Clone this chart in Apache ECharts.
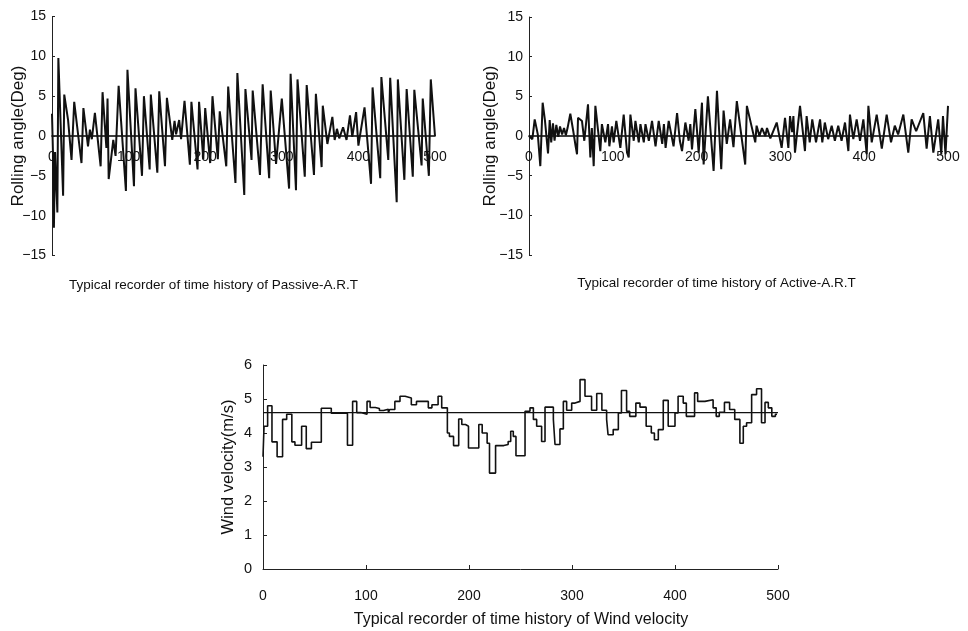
<!DOCTYPE html>
<html>
<head>
<meta charset="utf-8">
<script src="https://cdn.jsdelivr.net/npm/echarts@6/dist/echarts.min.js"></script>
<style>
html,body{margin:0;padding:0;background:#fff;}
#c{width:968px;height:631px;}
</style>
</head>
<body>
<div id="c"></div>
<script>
// ---- Passive-A.R.T rolling angle (time, deg) ----
const passiveTime = [0,1.5,2.5,4,7,8.3,14.5,16,21,25.5,29,38.5,41,47,49.5,52,56,63.5,66,71,72.5,74,80,83,87,96.5,98.5,107,109,117.5,120,127.5,129,137.5,140,147.5,150,157,160,162,166,168.5,173,180,182,190,192,197.5,200,206.5,209.5,216.5,219,227.5,230,239.5,242,251,252.5,260.5,262,271.5,275,283.5,285.5,292.5,300,309.5,311.5,318.5,320.5,330,332.5,342,344.5,352,353.5,359.5,366,369,372,375,380,384.5,389,392,397,400,408,416.5,418.5,428.5,430,439,441.5,450,451.5,460,463,471,473,482.5,484,492,494.5,500];
const passiveAngle = [2.8,-3,-11.5,-2,-9.6,9.8,-7.5,5.2,2,-3,4.3,-3.4,3.5,-1.3,0.8,-0.4,2.9,-3.8,5.5,-1.5,4.7,-5.4,-0.5,-2.5,6.3,-6.9,8.3,-6.3,6.0,-5,5,-4.2,5.2,-4.6,5.6,-3.8,4.8,-0.5,1.9,0.2,2,-0.4,4.4,-3.6,4.3,-4.2,4.3,-2.9,3.5,-3.4,5,-2.9,3.1,-3.8,6.2,-5.9,7.9,-7.4,5.9,-3,5.7,-4.9,6.5,-5.3,5.7,-3.5,4.7,-6.6,7.8,-6.8,7.1,-5.1,6.4,-4.9,5.3,-3.9,3.8,-1,2.4,-0.5,0.9,-0.3,1.1,-0.5,2.6,-0.1,3,-1.2,3.6,-6,6.1,-5.3,7.4,-3,7.3,-8.3,7.1,-5.5,5.9,-5.1,5.8,-3.7,4.7,-5,7.1,0];

// ---- Active-A.R.T rolling angle (time, deg) ----
const activeTime = [0,4,6.8,10.5,13.5,16.3,19,22.7,24.7,26.5,28.6,30.5,32.6,35,37,39.5,41.8,44,46,49.3,53,55.5,57.3,58.5,63.2,66,70.4,73.2,75,77.2,79.2,85.1,87,91.1,94.3,95.9,99,101,104.2,109,113,117,119,121,125,127,131,133,137,139,143,146.8,151,154.8,159,161,163,166.7,172.5,176.7,180,182.6,186.6,190.5,192.5,194.5,198.5,202.5,206.4,208.4,213.5,220.3,224.3,229.4,232.2,236,240,244,248,258,260,265,270,271.6,275,278,282,284,288,295.6,301.5,305.5,309.5,311.5,314,315.5,317.4,323.4,329.3,331.3,335,338,342.5,347.3,350,353,357,361.2,365,369,373,377.1,381.1,383,387,391,395,399,403,405,409,414.9,421,426.8,432,436.5,440.5,446.7,452.6,456.6,462,470.5,474.5,478.4,482.5,488.3,492,494,497,500];
const activeAngle = [0,-0.4,2.1,0.2,-3.8,4.2,2.0,-2.2,2.0,-0.8,1.6,-0.6,1.4,-0.1,1.2,0.2,1.0,0.1,1.0,2.8,0.5,-1.2,-2.3,2.3,1.9,-0.6,4.0,-2.7,1,-3.8,3.8,-1.9,1.5,-0.8,1.5,-1.3,1.2,-0.8,1.9,-1.5,2.7,-2.1,-2.7,2.7,-0.6,1.9,-0.8,1.5,-0.8,1.5,-0.6,1.9,-1.3,1.9,-1.0,1.5,-1.5,1.9,-1.3,2.9,-0.6,-1.9,1.7,-0.6,1.5,-1.7,3.4,-2.1,4.2,-3.6,5.0,-4.4,5.7,-4.2,3.2,-1.0,2.1,-1.4,4.4,-3.6,3.8,1.5,-0.8,1.3,0,1.0,0,1.0,-0.3,1.7,-1.5,2.3,-1.5,2.5,0.5,2.5,-2.1,3.8,-1.9,2.5,-0.8,2.1,-0.8,2.1,-0.8,1.7,-0.4,1.3,-0.6,1.3,-0.6,1.7,-1.9,2.7,-0.4,2.1,-0.6,2.1,-2.3,3.8,-0.8,2.7,-1.6,2.7,-0.8,1.3,0.2,2.7,-2.1,2.1,0.6,2.9,-1.6,2.5,-2.1,2.1,-2.3,2.5,-2.3,3.8];

// ---- Wind velocity step record (time, m/s) ----
const windTime = [0,1,4.5,8.7,13.7,19,23,28,31,37.5,42,47,56.6,66.3,82,87,91,95,101,104,109,113,117,121.7,123,128,133,138,144,149,160.5,164,170,173.5,179,181,185,190,193,196.6,199.5,209.5,212.8,217.6,219.9,225.8,233.8,238,240.5,243,245.6,254.4,259.2,262.5,265.7,270.5,273.8,281.9,283.5,288.3,291.6,294.8,299.7,303,307.8,312.6,319,324,329,333.6,335,340,345,348,353,356,362,366,372,377,380,383.8,388.6,393.4,400,403,408,411,419,422,429,437,440,443,448,453,458,463,466.3,469.5,474.4,479.2,484,487.4,490.6,494,497.5,499];
const windSpeed = [3.3,4.2,4.8,3.74,3.3,4.4,4.55,3.74,3.64,4.2,3.54,3.73,4.73,4.58,3.64,4.93,4.6,4.55,4.93,4.75,4.72,4.66,4.7,4.6,4.69,4.93,5.08,5.03,4.83,4.93,4.74,4.83,5.08,4.74,4.0,3.9,3.63,4.41,4.25,4.2,3.56,4.25,4.0,3.7,2.82,3.63,3.66,3.75,4.05,3.9,3.33,4.64,4.74,4.4,4.2,3.75,4.76,4.4,3.66,4.12,4.93,4.67,4.88,4.93,5.57,5.08,4.67,5.16,4.67,4.4,3.95,4.1,4.59,5.25,4.64,4.49,4.88,4.76,4.2,4.0,3.8,4.1,4.96,4.2,4.59,5.08,4.88,4.49,5.18,4.93,4.98,4.74,4.49,4.61,4.9,4.69,4.4,3.7,4.2,4.3,5.13,5.3,4.3,4.9,4.74,4.49,4.55,4.55];
const windMean = 4.6;

// ---- Axes / labels ----
const timeTicks = {min: 0, max: 500, interval: 100};
const angleTicks = {min: -15, max: 15, interval: 5};
const windTicks = {min: 0, max: 6, interval: 1};
const titles = [
  'Typical recorder of time history of Passive-A.R.T',
  'Typical recorder of time history of Active-A.R.T',
  'Typical recorder of time history of Wind velocity'
];
const angleName = 'Rolling angle(Deg)';
const windName = 'Wind velocity(m/s)';

const zip = (a, b) => a.map((v, i) => [v, b[i]]);
const FONT = '"Liberation Sans", Arial, sans-serif';
const minusFmt = v => String(v).replace('-', '\u2212');

function angleY(gridIndex, gap) {
  return {
    type: 'value', gridIndex, min: angleTicks.min, max: angleTicks.max, interval: angleTicks.interval,
    name: angleName, nameLocation: 'middle', nameGap: gap, nameMoveOverlap: false,
    nameTextStyle: {fontFamily: FONT, fontSize: 17, color: '#111'},
    axisLine: {show: true, lineStyle: {color: '#222', width: 1}},
    axisTick: {show: true, inside: true, length: 3, lineStyle: {color: '#222'}},
    axisLabel: {fontFamily: FONT, fontSize: 14, color: '#111', margin: 6, formatter: minusFmt},
    splitLine: {show: false}
  };
}
function timeX(gridIndex, off) {
  return {
    type: 'value', gridIndex, min: timeTicks.min, max: timeTicks.max, interval: timeTicks.interval,
    offset: off,
    axisLine: {show: true, onZero: false, lineStyle: {color: '#000', width: 1.6}},
    axisTick: {show: false},
    axisLabel: {fontFamily: FONT, fontSize: 14, color: '#111', margin: 14},
    splitLine: {show: false}
  };
}

const chart = echarts.init(document.getElementById('c'), null, {renderer: 'canvas'});
chart.setOption({
  backgroundColor: '#fff',
  animation: false,
  grid: [
    {left: 52, top: 16.5, width: 383, height: 239},
    {left: 529, top: 17, width: 419, height: 238},
    {left: 263, top: 365, width: 515, height: 204}
  ],
  xAxis: [
    timeX(0, -119.5),
    timeX(1, -119),
    {
      type: 'value', gridIndex: 2, min: timeTicks.min, max: timeTicks.max, interval: timeTicks.interval,
      axisLine: {show: true, lineStyle: {color: '#222', width: 1}},
      axisTick: {show: true, inside: true, length: 4, lineStyle: {color: '#222'}},
      axisLabel: {fontFamily: FONT, fontSize: 14, color: '#111', margin: 20},
      splitLine: {show: false}
    }
  ],
  yAxis: [
    angleY(0, 25),
    angleY(1, 30),
    {
      type: 'value', gridIndex: 2, min: windTicks.min, max: windTicks.max, interval: windTicks.interval,
      name: windName, nameLocation: 'middle', nameGap: 26, nameMoveOverlap: false,
      nameTextStyle: {fontFamily: FONT, fontSize: 16.5, color: '#111'},
      axisLine: {show: true, lineStyle: {color: '#222', width: 1}},
      axisTick: {show: true, inside: true, length: 4, lineStyle: {color: '#222'}},
      axisLabel: {fontFamily: FONT, fontSize: 14.5, color: '#111', margin: 11},
      splitLine: {show: false}
    }
  ],
  series: [
    {type: 'line', xAxisIndex: 0, yAxisIndex: 0, data: zip(passiveTime, passiveAngle), symbol: 'none',
     lineStyle: {color: '#111', width: 2}, z: 3},
    {type: 'line', xAxisIndex: 1, yAxisIndex: 1, data: zip(activeTime, activeAngle), symbol: 'none',
     lineStyle: {color: '#111', width: 2}, z: 3},
    {type: 'line', xAxisIndex: 2, yAxisIndex: 2, data: zip(windTime, windSpeed), symbol: 'none', step: 'end',
     lineStyle: {color: '#111', width: 1.6}, z: 3},
    {type: 'line', xAxisIndex: 2, yAxisIndex: 2, data: [[timeTicks.min, windMean], [timeTicks.max, windMean]], symbol: 'none',
     lineStyle: {color: '#111', width: 1.2}, z: 4}
  ],
  graphic: [
    {type: 'text', x: 213.5, y: 285, style: {text: titles[0], font: '13.5px ' + FONT, fill: '#111', textAlign: 'center', textVerticalAlign: 'middle'}},
    {type: 'text', x: 716.5, y: 283, style: {text: titles[1], font: '13.5px ' + FONT, fill: '#111', textAlign: 'center', textVerticalAlign: 'middle'}},
    {type: 'text', x: 521, y: 620, style: {text: titles[2], font: '16px ' + FONT, fill: '#111', textAlign: 'center', textVerticalAlign: 'middle'}}
  ]
});
</script>
</body>
</html>
